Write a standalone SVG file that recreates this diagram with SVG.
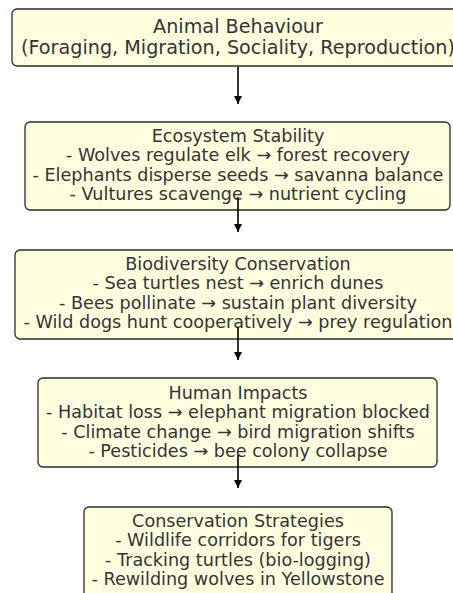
<svg xmlns="http://www.w3.org/2000/svg" width="453" height="593" viewBox="0 0 453 593">
<style>
.box{fill:#ffffe0;stroke:#2b2b2b;stroke-width:1.3}
.t{font-family:"DejaVu Sans",sans-serif;font-size:17.6px;fill:#333;text-anchor:middle}
.t1{font-size:19.2px}
.arr{stroke:#000;stroke-width:1.6;fill:none}
</style>
<defs>
<marker id="ah" viewBox="0 0 10 10" refX="10" refY="5" markerWidth="8" markerHeight="8" markerUnits="userSpaceOnUse" orient="auto">
<path d="M0,0 L10,5 L0,10 z" fill="#000"/>
</marker>
</defs>
<rect width="453" height="593" fill="#fff"/>
<g id="animal-behaviour">
<rect class="box" x="12" y="9" width="452" height="57" rx="5"/>
<text class="t t1" x="238" y="33">Animal Behaviour</text>
<text class="t t1" x="238" y="53.5">(Foraging, Migration, Sociality, Reproduction)</text>
</g>
<g id="ecosystem-stability">
<rect class="box" x="25" y="122" width="425" height="88" rx="5"/>
<text class="t" x="238" y="141.5">Ecosystem Stability</text>
<text class="t" x="238" y="161">- Wolves regulate elk → forest recovery</text>
<text class="t" x="238" y="180.5">- Elephants disperse seeds → savanna balance</text>
<text class="t" x="238" y="200">- Vultures scavenge → nutrient cycling</text>
</g>
<g id="biodiversity-conservation">
<rect class="box" x="15" y="250" width="450" height="89" rx="5"/>
<text class="t" x="238" y="269.5">Biodiversity Conservation</text>
<text class="t" x="238" y="289">- Sea turtles nest → enrich dunes</text>
<text class="t" x="238" y="308.5">- Bees pollinate → sustain plant diversity</text>
<text class="t" x="238" y="328">- Wild dogs hunt cooperatively → prey regulation</text>
</g>
<g id="human-impacts">
<rect class="box" x="38" y="378" width="399" height="89" rx="5"/>
<text class="t" x="238" y="398.5">Human Impacts</text>
<text class="t" x="238" y="418">- Habitat loss → elephant migration blocked</text>
<text class="t" x="238" y="437.5">- Climate change → bird migration shifts</text>
<text class="t" x="238" y="457">- Pesticides → bee colony collapse</text>
</g>
<g id="conservation-strategies">
<rect class="box" x="84" y="507" width="308" height="100" rx="5"/>
<text class="t" x="238" y="526.5">Conservation Strategies</text>
<text class="t" x="238" y="546">- Wildlife corridors for tigers</text>
<text class="t" x="238" y="565.5">- Tracking turtles (bio-logging)</text>
<text class="t" x="238" y="585">- Rewilding wolves in Yellowstone</text>
</g>
<g id="connectors">
<line class="arr" x1="238" y1="67" x2="238" y2="104" marker-end="url(#ah)"/>
<line class="arr" x1="238" y1="197" x2="238" y2="232" marker-end="url(#ah)"/>
<line class="arr" x1="238" y1="327" x2="238" y2="360" marker-end="url(#ah)"/>
<line class="arr" x1="238" y1="455" x2="238" y2="488" marker-end="url(#ah)"/>
</g>
</svg>
